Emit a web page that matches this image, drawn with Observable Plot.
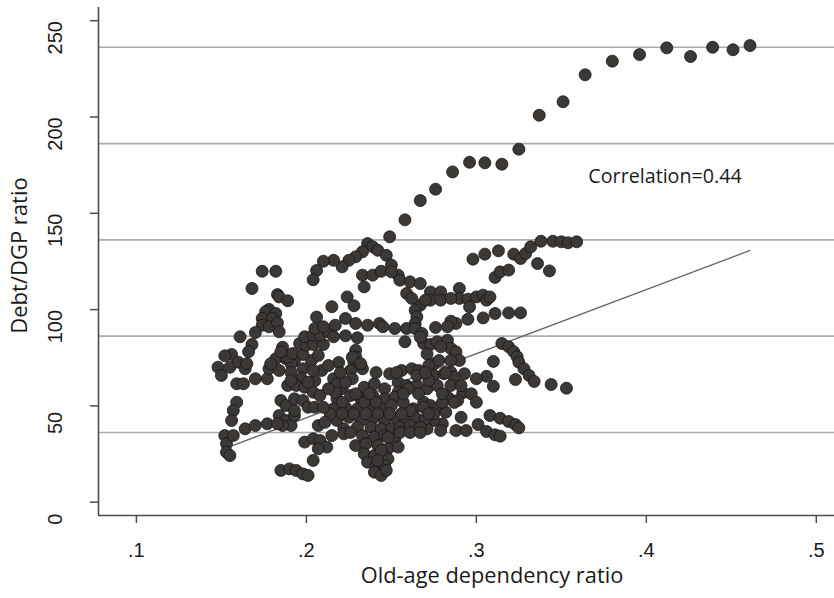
<!DOCTYPE html>
<html>
<head>
<meta charset="utf-8">
<script src="https://cdn.jsdelivr.net/npm/d3@7"></script>
<script src="https://cdn.jsdelivr.net/npm/@observablehq/plot@0.6"></script>
<style>
  html, body { margin: 0; padding: 0; background: #ffffff; }
  #chart { width: 834px; height: 598px; overflow: hidden; }
  #chart svg { max-width: none !important; }
</style>
</head>
<body>
<div id="chart"></div>
<script>
// Old-age dependency ratio (x) vs Debt/GDP ratio (y), one dot per country-year.
// Each group is one visible run of observations, as [ratio, debt] pairs.
const topChain = [
  [0.461,237.1],[0.451,234.9],[0.439,236.2],[0.426,231.4],[0.412,235.9],[0.396,232.4],
  [0.380,229.0],[0.364,221.9],[0.351,207.9],[0.337,200.9],[0.325,183.3],[0.315,175.5],
  [0.305,176.2],[0.296,176.5],[0.286,171.5],[0.276,162.5],[0.267,156.6],[0.258,146.6],
  [0.249,137.8]
];
const upperRight = [
  [0.298,126.2],[0.305,128.8],[0.313,130.5],[0.322,128.8],[0.326,126.5],[0.329,129.1],
  [0.332,132.6],[0.338,135.5],[0.345,135.5],[0.350,135.2],[0.354,134.7],[0.359,135.2],
  [0.336,123.9],[0.343,120.1],[0.311,116.7],[0.314,119.6],[0.319,120.5]
];
const upperArc = [
  [0.236,134.3],[0.239,132.6],[0.242,130.8],[0.247,128.2],[0.233,130.0],[0.229,127.4],
  [0.225,125.6],[0.221,122.2],[0.216,125.6],[0.210,125.1],[0.206,120.3],[0.204,115.5],
  [0.250,123.1],[0.254,117.9],[0.255,115.3],[0.261,114.4],[0.267,113.5],[0.233,117.9],
  [0.239,117.9],[0.244,119.9],[0.250,119.6],[0.234,111.8],[0.224,106.6],[0.228,102.0],
  [0.215,101.5],[0.206,96.1]
];
const rightGroup = [
  [0.290,111.0],[0.290,105.8],[0.295,105.4],[0.296,101.4],[0.300,106.6],[0.304,107.5],
  [0.306,104.9],[0.308,106.6],[0.273,109.2],[0.279,109.2],[0.273,104.9],[0.279,104.9],
  [0.285,105.8],[0.267,102.3],[0.270,104.9],[0.259,108.4],[0.262,105.8],[0.264,99.7],
  [0.265,96.3],[0.264,92.8],
  [0.295,95.0],[0.304,95.7],[0.311,98.0],[0.319,98.3],[0.326,98.3],[0.288,92.8],
  [0.285,94.0],[0.283,91.1],[0.276,90.7]
];
const leftCluster = [
  [0.174,119.9],[0.182,119.9],[0.168,111.0],[0.183,107.8],[0.184,106.6],[0.189,104.6],
  [0.178,100.1],[0.176,98.9],[0.182,98.0],[0.174,95.4],[0.180,95.4],[0.174,91.9],
  [0.178,91.1],[0.183,93.1],[0.170,88.1],[0.184,88.5],[0.161,85.9],[0.168,81.9],
  [0.166,78.1],[0.156,76.7],[0.152,76.0],
  [0.148,70.1],[0.150,65.8],[0.155,70.1],[0.160,72.7],[0.164,69.3],[0.165,71.9],
  [0.159,61.5],[0.163,61.5],[0.170,64.1],[0.177,64.1],[0.178,69.3],[0.184,68.4],
  [0.182,74.5],[0.188,74.5],[0.193,73.6],[0.198,69.3],[0.203,73.6],[0.209,68.4],
  [0.179,71.9],[0.191,71.9],[0.189,75.3],
  [0.186,80.5],[0.185,78.1],[0.192,77.2],[0.198,76.7],[0.196,82.4],[0.200,81.5],
  [0.204,81.9],[0.210,81.9],[0.199,85.9],[0.204,86.7],[0.208,86.7],[0.213,88.5],
  [0.216,85.9],[0.205,90.2],[0.210,91.1]
];
const middleRow = [
  [0.223,95.4],[0.217,91.9],[0.229,92.8],[0.236,91.9],[0.243,92.8],[0.245,91.1],
  [0.252,90.2],[0.259,90.2],[0.264,90.2],[0.268,87.6],[0.223,86.4],[0.230,85.4],
  [0.258,83.3],[0.269,82.4],[0.273,81.9],[0.277,83.3],[0.283,84.1],[0.285,79.8],
  [0.288,78.1],[0.279,80.7],[0.229,78.9],[0.229,75.5],[0.267,85.7]
];
const descendingRun = [
  [0.315,82.4],[0.319,80.7],[0.322,78.1],[0.324,75.5],[0.325,72.7],[0.328,69.3],
  [0.331,65.8],[0.334,62.7],[0.323,63.7],[0.344,61.1],[0.353,59.2],[0.310,73.1],
  [0.310,60.2],[0.306,65.4],[0.300,64.1],[0.293,66.7],[0.290,73.6],[0.285,67.5],
  [0.275,71.9],[0.271,77.0],[0.292,56.8],[0.297,56.3],[0.300,51.9],[0.284,53.7]
];
const lowerRight = [
  [0.291,44.1],[0.288,37.2],[0.294,37.2],[0.301,40.3],[0.306,36.7],[0.311,35.0],
  [0.314,34.3],[0.308,45.0],[0.314,43.6],[0.319,41.9],[0.323,40.3],[0.325,38.6],
  [0.280,40.7],[0.275,42.4],[0.271,38.1],[0.279,37.2]
];
const centerBlob = [
  [0.228,72.7],[0.226,68.4],[0.233,69.3],[0.227,64.1],[0.249,66.7],[0.256,68.4],
  [0.262,69.3],[0.266,68.4],[0.272,71.0],[0.278,73.6],[0.285,73.6],[0.275,65.8],
  [0.281,66.7],[0.287,64.9],[0.285,60.6],[0.291,60.6],[0.216,64.1],[0.254,62.3],
  [0.259,60.6],[0.265,60.6],[0.271,58.9],[0.277,60.6],[0.221,58.9],[0.234,59.7],
  [0.240,61.5],[0.246,58.9],[0.254,57.1],[0.260,58.9],
  [0.218,53.7],[0.226,55.4],[0.232,53.7],[0.239,55.4],[0.246,53.7],[0.252,54.5],
  [0.216,48.5],[0.223,49.3],[0.230,48.5],[0.237,50.2],[0.244,48.5],[0.250,50.2],
  [0.283,54.5],[0.289,52.8],[0.263,48.5],[0.269,51.9],[0.273,50.2],[0.277,48.5],
  [0.282,46.7],
  [0.218,42.4],[0.225,44.1],[0.232,42.4],[0.239,43.3],[0.246,42.4],[0.253,43.3],
  [0.258,42.4],[0.264,44.1],[0.270,43.3],
  [0.222,38.1],[0.230,38.9],[0.238,38.9],[0.244,38.1],[0.250,38.1],[0.255,38.9],
  [0.261,39.8],[0.267,38.9],
  [0.215,34.6],[0.233,34.6],[0.240,33.7],[0.246,34.6],[0.252,32.9],[0.229,29.4],
  [0.235,30.3],[0.242,29.4],[0.248,27.7],[0.254,28.6],[0.234,25.1],[0.240,24.2],
  [0.245,24.2],[0.248,22.5],[0.236,20.8],[0.241,19.1],[0.246,19.1],[0.240,15.6],
  [0.244,13.9],[0.247,16.5],
  [0.227,75.3],[0.232,71.9],[0.218,61.5],[0.265,65.8],[0.272,63.2],[0.261,47.6],
  [0.269,49.3],[0.275,45.9],[0.248,33.7],[0.244,26.8],[0.242,21.7],[0.214,45.9],
  [0.222,35.5]
];
// Further overlapping observations inside the dense core.
const centerCore = [
  [0.219,72.5],[0.220,67.3],[0.223,62.1],[0.217,57.0],
  [0.221,51.8],[0.234,51.8],[0.241,51.8],[0.257,51.8],[0.280,51.8],[0.287,51.8],
  [0.221,46.0],[0.228,46.0],[0.235,46.0],[0.242,46.0],[0.249,46.0],[0.256,46.0],
  [0.272,46.0],
  [0.226,36.2],[0.255,36.2],[0.261,36.2],[0.267,36.2],
  [0.229,56.3],[0.237,56.3],[0.257,56.3],[0.266,56.3],[0.280,56.3],
  [0.241,67.3],[0.253,67.3],[0.270,67.3],[0.282,67.3],
  [0.197,64.2],[0.205,63.1],[0.204,68.4],[0.191,67.4],[0.207,76.2],[0.213,71.0]
];
const lowerLeft = [
  [0.189,60.6],[0.194,60.6],[0.199,59.7],[0.204,57.1],[0.208,55.4],[0.213,58.9],
  [0.185,52.8],[0.188,50.2],[0.193,53.7],[0.198,52.8],[0.201,49.3],[0.205,49.3],
  [0.210,49.3],[0.184,45.0],[0.188,42.4],[0.191,39.8],[0.186,39.8],[0.193,45.0],
  [0.207,39.8],[0.211,41.5],[0.191,63.2],[0.201,62.3],[0.193,47.6],
  [0.159,51.9],[0.157,47.6],[0.156,42.4],[0.152,34.6],[0.153,30.3],[0.153,26.0],
  [0.155,24.2],[0.157,34.6],[0.164,38.1],[0.170,39.8],[0.177,40.7],[0.183,40.7],
  [0.199,31.2],[0.204,32.9],[0.208,32.0],[0.212,28.6],[0.207,27.7],[0.204,21.7],
  [0.185,16.5],[0.190,17.3],[0.194,16.5],[0.198,14.7],[0.201,13.9]
];

// Linear fit, drawn between its two end points.
const fitLine = [
  {ratio: 0.155, debt: 28.9},
  {ratio: 0.461, debt: 130.7}
];

// Axes, grid and annotation.
const ratioDomain = [0.0777, 0.5407];
const debtDomain = [-6.9, 256.85];
const xTicks = [0.1, 0.2, 0.3, 0.4, 0.5];
const yTicks = [0, 50, 100, 150, 200, 250];
const gridValues = [36.2, 86.2, 136.2, 186.2, 236.2];
const note = {ratio: 0.411, debt: 169.2, label: "Correlation=0.44"};
const xTitle = "Old-age dependency ratio";
const yTitle = "Debt/DGP ratio";

const points = [
  ...topChain, ...upperRight, ...upperArc, ...rightGroup, ...leftCluster,
  ...middleRow, ...descendingRun, ...lowerRight, ...centerBlob, ...centerCore,
  ...lowerLeft
];

const labelFont = "'Open Sans', 'Noto Sans', sans-serif";
const tickFont = "'Liberation Sans', Arial, sans-serif";
const axisGray = "#4d4d4d";

const chart = Plot.plot({
  width: 886,
  height: 598,
  marginLeft: 98,
  marginRight: 1,
  marginTop: 7,
  marginBottom: 83,
  x: {domain: ratioDomain},
  y: {domain: debtDomain},
  style: {
    fontFamily: tickFont, fontSize: "20px", color: "#1a1a1a",
    background: "#ffffff", maxWidth: "none"
  },
  marks: [
    Plot.ruleY(gridValues, {stroke: "#ababab", strokeWidth: 1.7}),
    Plot.line(fitLine, {x: "ratio", y: "debt", stroke: "#666666", strokeWidth: 1.3}),
    Plot.dot(points, {x: d => d[0], y: d => d[1], r: 6, fill: "#3b3836", stroke: "#161616", strokeWidth: 0.8}),
    Plot.ruleX([ratioDomain[0]], {stroke: axisGray, strokeWidth: 1.6}),
    Plot.ruleY([debtDomain[0]], {stroke: axisGray, strokeWidth: 1.6}),
    Plot.axisX({
      ticks: xTicks, tickSize: 8, tickPadding: 19, label: null,
      tickFormat: d => d.toFixed(1).replace(/^0/, ""),
      stroke: axisGray, strokeWidth: 1.5, fill: "#1a1a1a"
    }),
    Plot.axisY({
      ticks: yTicks, tickSize: 8, label: null, tickFormat: () => "",
      stroke: axisGray, strokeWidth: 1.5
    }),
    Plot.text(yTicks, {
      y: d => d, text: d => String(d), frameAnchor: "left",
      dx: -43, dy: 17, rotate: -90, textAnchor: "middle", lineAnchor: "middle",
      fontSize: 20, fontFamily: tickFont, fill: "#1a1a1a"
    }),
    Plot.text([note], {
      x: "ratio", y: "debt", text: "label", textAnchor: "middle",
      fontSize: 19.7, fontFamily: labelFont, fill: "#1a1a1a"
    }),
    Plot.text([xTitle], {
      text: d => d, frameAnchor: "bottom", dy: 67.5, textAnchor: "middle",
      fontSize: 21.8, fontFamily: labelFont, fill: "#1a1a1a"
    }),
    Plot.text([yTitle], {
      text: d => d, frameAnchor: "left", dx: -79, dy: -6, rotate: -90,
      textAnchor: "middle", fontSize: 22, fontFamily: labelFont, fill: "#1a1a1a"
    })
  ]
});

document.getElementById("chart").append(chart);
</script>
</body>
</html>
